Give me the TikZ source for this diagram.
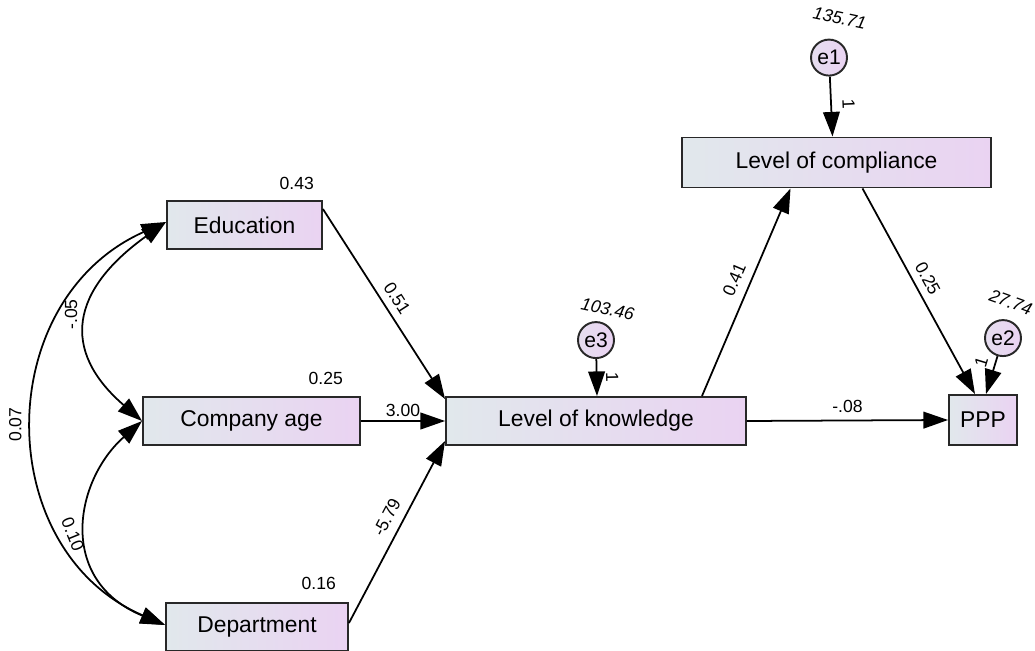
\documentclass[tikz,border=0pt]{standalone}
\definecolor{boxLeft}{RGB}{225, 232, 236}
\definecolor{boxRight}{RGB}{234, 211, 242}
\definecolor{edgeGray}{RGB}{40, 40, 40}
\usepackage{fontspec}
\setmainfont{Liberation Sans}
\usetikzlibrary{arrows.meta, positioning}

\begin{document}
\begin{tikzpicture}[
    x=0.02cm, y=-0.02cm,
    var/.style={
      rectangle, draw=edgeGray, left color=boxLeft, right color=boxRight,
      minimum height=0.96cm, font=\fontsize{13}{15}\selectfont,
      line width=1.1pt, inner sep=2pt
    },
    err/.style={circle, draw=edgeGray, left color=boxLeft!50!boxRight, right color=boxRight,
      minimum size=0.72cm, inner sep=0pt, line width=1.1pt, font=\fontsize{12}{14}\selectfont},
    lbl/.style={font=\fontsize{10}{12}\selectfont, inner sep=1pt},
    varlbl/.style={lbl, font=\fontsize{10}{12}\selectfont\itshape},
    reg/.style={-{Triangle[length=14pt, width=9.5pt]}, line width=1pt},
    cov/.style={{Triangle[length=14pt, width=9.5pt]}-{Triangle[length=14pt, width=9.5pt]}, line width=1pt},
  ]
    \useasboundingbox (0,0) rectangle (1035,651);

    % Exogenous variables
    \node[var, minimum width=3.1cm] (edu) at (244.5,225) {Education};
    \node[var, minimum width=4.34cm] (comp) at (251.5,421) {Company age};
    \node[var, minimum width=3.64cm] (dept) at (257,627) {Department};

    % Endogenous variables
    \node[var, minimum width=6cm] (know) at (596,421) {Level of knowledge};
    \node[var, minimum width=6.18cm, minimum height=1cm] (compl) at (836.5,162.5) {Level of compliance};
    \node[var, minimum width=1.36cm, minimum height=1cm] (ppp) at (983,420) {PPP};

    % Error terms
    \node[err, above=0.74cm of know] (e3) {e3};
    \node[err, above=1.2cm of compl, xshift=-0.15cm] (e1) {e1};
    \node[err, above=0.74cm of ppp, xshift=0.4cm] (e2) {e2};

    % Variances
    \node[lbl, anchor=south east] (vEdu) at ([xshift=-0.14cm, yshift=0.16cm]edu.north east) {0.43};
    \node[lbl, anchor=south east] (vComp) at ([xshift=-0.32cm, yshift=0.18cm]comp.north east) {0.25};
    \node[lbl, anchor=south east] (vDept) at ([xshift=-0.22cm, yshift=0.2cm]dept.north east) {0.16};
    \node[varlbl, above=0.24cm of e1, xshift=0.18cm, rotate=-12] (vE1) {135.71};
    \node[varlbl, above=0.08cm of e3, xshift=0.2cm, rotate=-12] (vE3) {103.46};
    \node[varlbl, above=0.18cm of e2, xshift=0.1cm, rotate=-20] (vE2) {27.74};

    % Regression paths
    \draw[reg] ([yshift=-0.18cm]edu.north east) -- ([yshift=-0.06cm]know.north west)
      node[lbl, pos=.51, sloped, above=3pt] (w1) {0.51};
    \draw[reg] (comp.east) -- (know.west)
      node[lbl, pos=.5, above=1pt] (w2) {3.00};
    \draw[reg] ([yshift=0.08cm]dept.east) -- ([yshift=0.1cm]know.south west)
      node[lbl, pos=.54, sloped, above=4pt] (w3) {-5.79};
    \draw[reg] ([xshift=2.12cm]know.north) -- ([xshift=-0.92cm]compl.south)
      node[lbl, pos=.53, sloped, above=4pt] (w4) {0.41};
    \draw[reg] ([xshift=0.52cm]compl.south) -- ([xshift=-0.16cm]ppp.north)
      node[lbl, pos=.47, sloped, above=3pt] (w5) {0.25};
    \draw[reg] (know.east) -- (ppp.west)
      node[lbl, pos=.5, above=3pt] (w6) {-.08};

    % Error paths
    \draw[reg] (e1) -- ([xshift=-0.08cm]compl.north)
      node[lbl, pos=.47, sloped, above=5pt] (f1) {1};
    \draw[reg] (e3) -- ([xshift=0.02cm]know.north)
      node[lbl, pos=.5, sloped, above=4pt] (f3) {1};
    \draw[reg] (e2) -- ([xshift=0.06cm]ppp.north)
      node[lbl, pos=.25, sloped, above=3pt] (f2) {1};

    % Covariances
    \draw[cov] ([yshift=0.06cm]edu.west) .. controls (71,290) and (60,350) .. (comp.west)
      node[lbl, pos=.47, rotate=90, anchor=south, inner sep=6pt] (c1) {-.05};
    \draw[cov] ([yshift=0.06cm]edu.west) .. controls (-9,300) and (-9,550) .. ([yshift=0.04cm]dept.west)
      node[lbl, pos=.5, rotate=90, anchor=south, inner sep=7pt] (c2) {0.07};
    \draw[cov] (comp.west) .. controls (75,480) and (56,580) .. ([yshift=0.04cm]dept.west)
      node[lbl, pos=.5, rotate=-68, anchor=north, inner sep=5pt] (c3) {0.10};
  \end{tikzpicture}
\end{document}
